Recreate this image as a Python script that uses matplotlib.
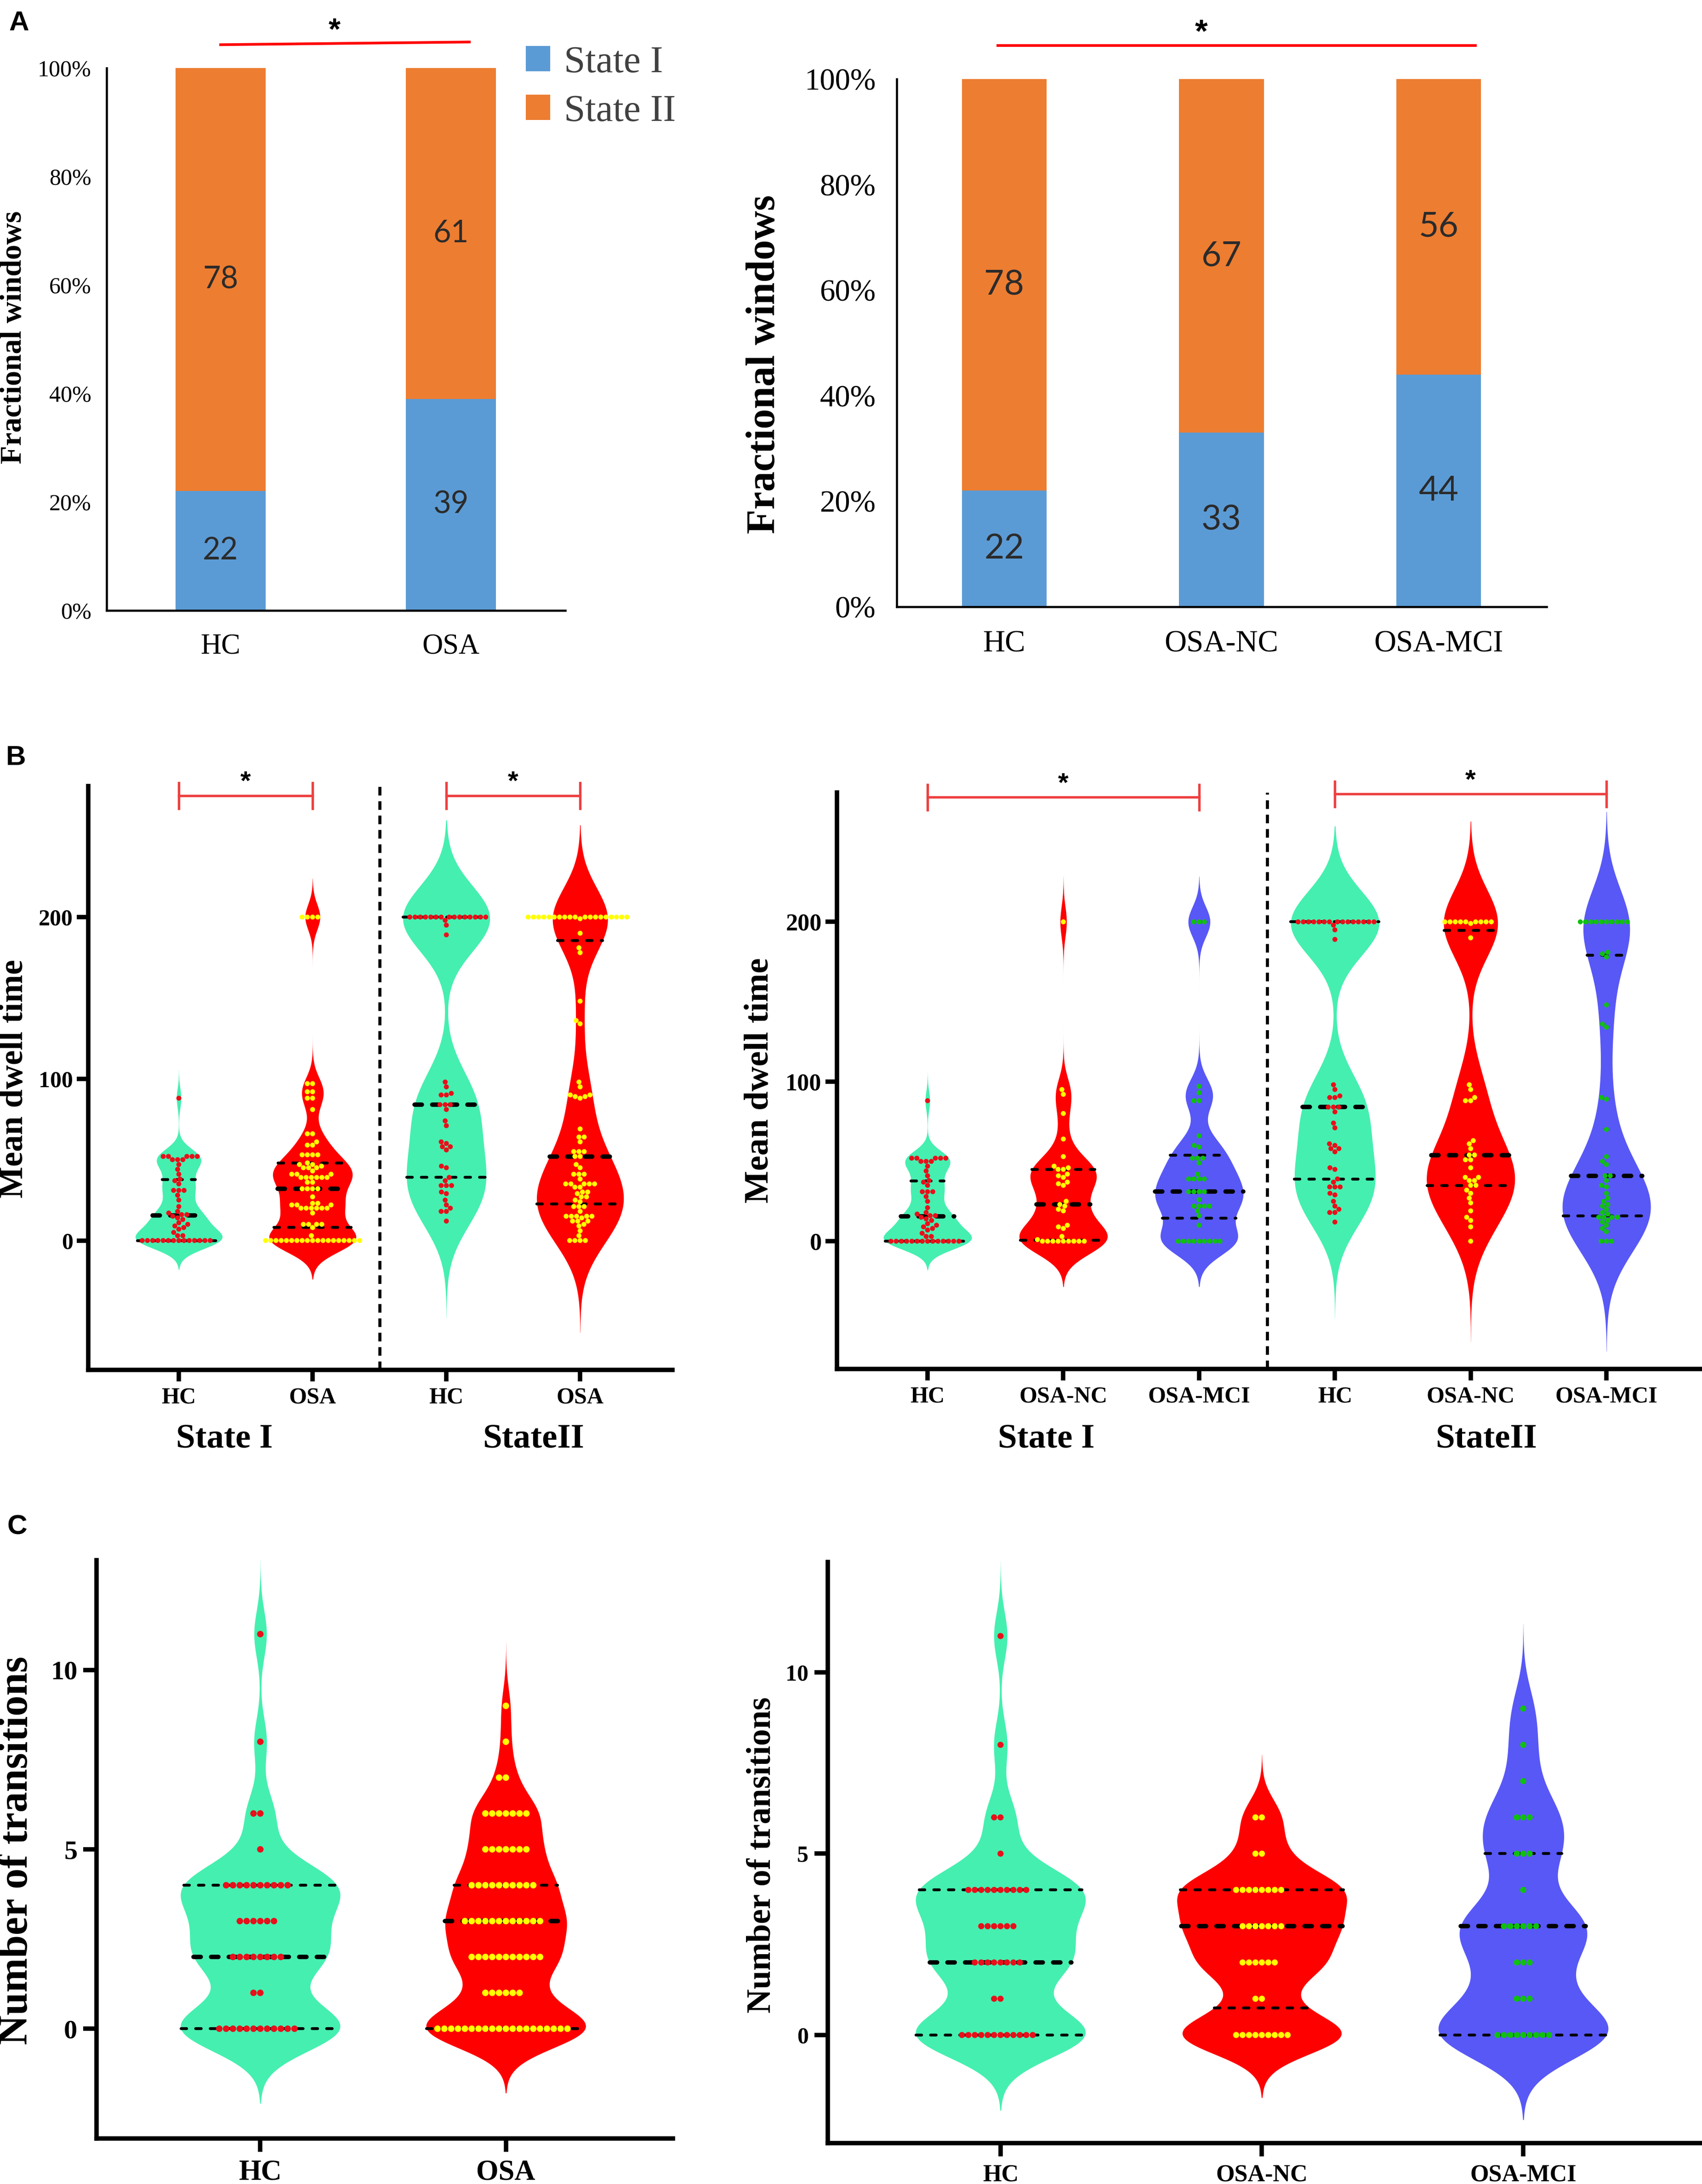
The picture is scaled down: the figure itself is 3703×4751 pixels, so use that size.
import numpy as np
import pandas as pd
import matplotlib
matplotlib.use('Agg')
import matplotlib.pyplot as plt
from matplotlib import mlab
import seaborn as sns

# ---------------- data ----------------
# A: fractional windows (%) per state
groups_2 = ['HC', 'OSA']
groups_3 = ['HC', 'OSA-NC', 'OSA-MCI']
frac_s1_2 = [22, 39]
frac_s2_2 = [78, 61]
frac_s1_3 = [22, 33, 44]
frac_s2_3 = [78, 67, 56]

# B: mean dwell time
hc_s1 = [0, 0, 0, 0, 0, 0, 0, 0, 0, 0, 0, 0, 0, 0,
         3, 3, 5, 7, 8, 9, 10, 11, 13, 14, 15, 16, 16, 17, 18, 21, 25, 28, 31, 31, 31,
         35, 37, 38, 41, 44, 47, 50, 50, 50, 52, 52, 52, 52, 52, 88]
osa_s1 = [0, 0, 0, 0, 0, 0, 0, 0, 0, 0, 0, 0, 0, 0, 0, 0, 0, 0, 0,
          3, 8, 10, 10, 10, 10, 17, 20, 20, 20, 20, 20, 20, 22, 22, 22, 23, 23, 27,
          32, 32, 32, 32, 36, 36, 39, 39, 39, 39, 39, 39, 41, 41, 41, 43, 45, 45, 45,
          46, 47, 47, 48, 53, 53, 53, 53, 59, 59, 61, 66, 66, 81, 88, 88, 92, 92, 97, 97,
          200, 200, 200, 200]
hc_s2 = [12, 18, 18, 20, 22, 25, 29, 30, 34, 34, 34, 37, 39, 45, 46, 56, 58, 58, 60, 61,
         71, 74, 81, 84, 84, 84, 90, 90, 91, 95, 98, 189, 195, 198,
         200, 200, 200, 200, 200, 200, 200, 200, 200, 200, 200, 200, 200, 200, 200]
osa_s2 = [0, 0, 0, 0, 3, 6, 9, 10, 12, 12, 12, 14, 15, 15, 15, 15, 15, 18, 21, 21, 21,
          24, 25, 27, 27, 29, 30, 30, 33, 33, 35, 35, 35, 35, 35, 38, 41, 41, 41, 45, 47,
          52, 52, 55, 55, 55, 61, 64, 64, 69, 88, 89, 89, 90, 90, 95, 98, 134, 136, 148,
          178, 181, 190, 199, 200, 200, 200, 200, 200, 200, 200, 200, 200, 200, 200, 200,
          200, 200, 200, 200, 200, 200, 200]
nc_s1 = [0, 0, 0, 0, 0, 0, 0, 0, 0, 1, 3, 8, 9, 10, 19, 20, 22, 23, 25, 35, 36, 37, 40,
         41, 42, 45, 45, 46, 47, 53, 64, 80, 92, 95, 200]
mci_s1 = [0, 0, 0, 0, 0, 0, 0, 0, 0, 10, 16, 19, 22, 22, 22, 22, 26, 31, 31, 31, 31,
          39, 39, 39, 39, 42, 49, 52, 52, 52, 59, 60, 66, 88, 88, 93, 97, 200, 200, 200]
nc_s2 = [0, 9, 13, 15, 19, 24, 27, 30, 32, 35, 35, 38, 38, 40, 40, 46, 51, 51, 54, 54,
         58, 61, 63, 88, 88, 90, 95, 98, 190, 199,
         200, 200, 200, 200, 200, 200, 200, 200, 200]
mci_s2 = [0, 0, 0, 6, 8, 10, 12, 13, 15, 15, 15, 15, 17, 18, 20, 22, 23, 25, 27, 30, 34,
          35, 38, 41, 41, 48, 50, 53, 70, 89, 90, 134, 136, 148, 178, 180, 181,
          200, 200, 200, 200, 200, 200, 200, 200, 200, 200]

# C: number of transitions
hc_c = [0, 0, 0, 0, 0, 0, 0, 0, 0, 0, 0, 0, 1, 1, 2, 2, 2, 2, 2, 2, 2, 2,
        3, 3, 3, 3, 3, 3, 4, 4, 4, 4, 4, 4, 4, 4, 4, 4, 5, 6, 6, 8, 11]
osa_c = [0, 0, 0, 0, 0, 0, 0, 0, 0, 0, 0, 0, 0, 0, 0, 0, 0, 0, 0, 0,
         1, 1, 1, 1, 1, 1, 2, 2, 2, 2, 2, 2, 2, 2, 2, 2, 2,
         3, 3, 3, 3, 3, 3, 3, 3, 3, 3, 3, 3, 4, 4, 4, 4, 4, 4, 4, 4, 4, 4,
         5, 5, 5, 5, 5, 5, 5, 6, 6, 6, 6, 6, 6, 6, 7, 7, 8, 9]
nc_c = [0, 0, 0, 0, 0, 0, 0, 0, 0, 1, 1, 2, 2, 2, 2, 2, 2, 3, 3, 3, 3, 3, 3, 3,
        4, 4, 4, 4, 4, 4, 4, 4, 5, 5, 6, 6]
mci_c = [0, 0, 0, 0, 0, 0, 0, 0, 0, 1, 1, 1, 2, 2, 2, 3, 3, 3, 3, 3, 3, 4,
         5, 5, 5, 6, 6, 6, 7, 8, 9]

# ---------------- style ----------------
W, H, DPI = 3703, 4751, 300
BLUE, ORANGE = '#5B9BD5', '#ED7D31'
GREEN_V, RED_V, BLUE_V = '#45EFB0', '#FF0000', '#5858F6'
RED_D, YEL_D, GRN_D = '#E8101A', '#FFFF00', '#10C010'
SIG = '#EE4040'

plt.rcParams['font.family'] = 'Liberation Serif'
plt.rcParams['lines.scale_dashes'] = False

fig = plt.figure(figsize=(W / DPI, H / DPI), dpi=DPI)


def px_axes(x0, y0, x1, y1):
    # axes box given in pixels (left, top, right, bottom)
    return fig.add_axes([x0 / W, 1 - y1 / H, (x1 - x0) / W, (y1 - y0) / H])


def fig_text(x, y, s, **kw):
    fig.text(x / W, 1 - y / H, s, ha='center', va='center', **kw)


def bar_panel(ax, groups, s1, s2, tick_fs, xt_fs, num_fs, ypad, xpad):
    x = np.arange(len(groups))
    b1 = ax.bar(x, np.array(s1) / 100, 0.39, color=BLUE, label='State I')
    b2 = ax.bar(x, np.array(s2) / 100, 0.39, bottom=np.array(s1) / 100,
                color=ORANGE, label='State II')
    for b, vals in ((b1, s1), (b2, s2)):
        ax.bar_label(b, labels=[str(v) for v in vals], label_type='center',
                     fontsize=num_fs, color='#2b2b2b', family='Lato')
    ax.set_xlim(-0.495, len(groups) - 0.503)
    ax.set_ylim(0, 1)
    ax.set_yticks(np.linspace(0, 1, 6))
    ax.set_yticklabels(['0%', '20%', '40%', '60%', '80%', '100%'])
    ax.set_xticks(x)
    ax.set_xticklabels(groups)
    ax.spines[['top', 'right']].set_visible(False)
    for s in ('left', 'bottom'):
        ax.spines[s].set_linewidth(1.1)
    ax.tick_params(axis='y', length=0, labelsize=tick_fs, pad=ypad)
    ax.tick_params(axis='x', length=0, labelsize=xt_fs, pad=xpad)
    return b1, b2


def draw_violin(ax, pos, vals, color, bw, cut, half=0.325):
    vals = np.asarray(vals, dtype=float)
    kde = mlab.GaussianKDE(vals, bw / vals.std(ddof=1))
    ys = np.linspace(vals.min() - cut * bw, vals.max() + cut * bw, 600)
    dens = kde.evaluate(ys)
    w = half * dens / dens.max()
    ax.fill_betweenx(ys, pos - w, pos + w, color=color, linewidth=0, zorder=1)
    q1, med, q3 = np.percentile(vals, [25, 50, 75])
    for q, lw, dash in ((q1, 1.5, (2.9, 4.7)), (med, 2.3, (3.8, 5.4)), (q3, 1.5, (2.9, 4.7))):
        hw = np.interp(q, ys, w)
        ax.plot([pos - hw, pos + hw], [q, q], color='black', lw=lw, dashes=dash,
                dash_capstyle='round', zorder=2)


def add_dots(ax, data, dot_colors, size):
    xs, ys, cs = [], [], []
    for pos, (vals, c) in enumerate(zip(data, dot_colors)):
        xs += [pos] * len(vals)
        ys += list(vals)
        cs += [c] * len(vals)
    df = pd.DataFrame({'pos': xs, 'val': ys, 'dot': cs})
    sns.swarmplot(data=df, x='pos', y='val', hue='dot', palette={c: c for c in dot_colors},
                  native_scale=True, orient='v', size=size, linewidth=0, legend=False,
                  ax=ax, zorder=3)


def violin_panel(ax, data, colors, dot_colors, bws, cut, dot_size, labels,
                 ylim, xlim, yticks, ytick_fs, xtick_fs, tick_len, ypad, xpad):
    for pos, (vals, col, bw) in enumerate(zip(data, colors, bws)):
        draw_violin(ax, pos, vals, col, bw, cut)
    add_dots(ax, data, dot_colors, dot_size)
    ax.set_xlim(*xlim)
    ax.set_ylim(*ylim)
    ax.set_xticks(range(len(data)))
    ax.set_xticklabels(labels)
    ax.set_yticks(yticks)
    ax.set_yticklabels([str(t) for t in yticks])
    ax.set_xlabel('')
    ax.set_ylabel('')
    ax.spines[['top', 'right']].set_visible(False)
    for s in ('left', 'bottom'):
        ax.spines[s].set_linewidth(2.3)
    ax.tick_params(axis='both', width=2.3, length=tick_len)
    ax.tick_params(axis='y', labelsize=ytick_fs, pad=ypad)
    ax.tick_params(axis='x', labelsize=xtick_fs, pad=xpad)
    for t in ax.get_xticklabels() + ax.get_yticklabels():
        t.set_fontweight('bold')


def bracket(ax, x0, x1, y, star_y, cap=8):
    kw = dict(color=SIG, lw=1.3, clip_on=False, zorder=5)
    ax.plot([x0, x1], [y, y], **kw)
    ax.plot([x0, x0], [y - cap, y + cap], **kw)
    ax.plot([x1, x1], [y - cap, y + cap], **kw)
    ax.text((x0 + x1) / 2, star_y, '*', ha='center', va='center', fontsize=14,
            fontweight='bold', family='Liberation Sans', clip_on=False)


# ---------------- A: fractional windows ----------------
ax_a1 = px_axes(232, 148, 1230, 1328)
b1, b2 = bar_panel(ax_a1, groups_2, frac_s1_2, frac_s2_2, 12, 15, 16, 8, 12)
ax_a1.plot([0.0, 1.08], [1.043, 1.048], color='#FF0000', lw=1.4, clip_on=False)
ax_a1.text(0.495, 1.068, '*', ha='center', va='center', fontsize=16, fontweight='bold',
           family='Liberation Sans', clip_on=False)
ax_a1.legend(handles=[b1, b2], loc='upper left', bbox_to_anchor=(1144 / W, 1 - 99 / H),
             bbox_transform=fig.transFigure, frameon=False, fontsize=20, labelcolor='#404040',
             handlelength=0.64, handleheight=0.64, handletextpad=0.36, labelspacing=0.37,
             borderpad=0, borderaxespad=0)

ax_a2 = px_axes(1951, 172, 3365, 1320)
bar_panel(ax_a2, groups_3, frac_s1_3, frac_s2_3, 16, 16, 18, 11, 12)
ax_a2.plot([-0.03, 2.17], [1.0636, 1.0636], color='#FF0000', lw=1.4, clip_on=False)
ax_a2.text(0.907, 1.086, '*', ha='center', va='center', fontsize=17, fontweight='bold',
           family='Liberation Sans', clip_on=False)

fig_text(30, 734, 'Fractional windows', rotation=90, fontsize=15.7, fontweight='bold')
fig_text(1663, 792, 'Fractional windows', rotation=90, fontsize=21, fontweight='bold')

# ---------------- B: mean dwell time ----------------
ax_b1 = px_axes(192, 1710, 1463, 2980)
violin_panel(ax_b1, [hc_s1, osa_s1, hc_s2, osa_s2],
             [GREEN_V, RED_V, GREEN_V, RED_V], [RED_D, YEL_D, RED_D, YEL_D],
             [6, 8, 20, 19], 3, 2.6, ['HC', 'OSA', 'HC', 'OSA'],
             (-80, 281), (-0.677, 3.69), [0, 100, 200], 12, 12, 6, 2, 3)
ax_b1.axvline(1.5, color='black', lw=1.6, dashes=(4.5, 3))
bracket(ax_b1, 0, 1, 275, 283)
bracket(ax_b1, 2, 3, 275, 283)

ax_b2 = px_axes(1821, 1724, 3699, 2978)
violin_panel(ax_b2, [hc_s1, nc_s1, mci_s1, hc_s2, nc_s2, mci_s2],
             [GREEN_V, RED_V, BLUE_V, GREEN_V, RED_V, BLUE_V],
             [RED_D, YEL_D, GRN_D, RED_D, YEL_D, GRN_D],
             [6, 9.5, 9.5, 20, 21, 23], 3, 2.6,
             ['HC', 'OSA-NC', 'OSA-MCI', 'HC', 'OSA-NC', 'OSA-MCI'],
             (-80, 281), (-0.667, 5.69), [0, 100, 200], 12.5, 12, 6, 2, 3)
ax_b2.axvline(2.5, color='black', lw=1.6, dashes=(4.5, 3))
bracket(ax_b2, 0, 2, 278, 286)
bracket(ax_b2, 3, 5, 280, 288)

fig_text(31, 2347, 'Mean dwell time', rotation=90, fontsize=17.5, fontweight='bold')
fig_text(1653, 2350, 'Mean dwell time', rotation=90, fontsize=18, fontweight='bold')
fig_text(488, 3131, 'State I', fontsize=18, fontweight='bold')
fig_text(1160, 3131, 'StateII', fontsize=18, fontweight='bold')
fig_text(2276, 3131, 'State I', fontsize=18, fontweight='bold')
fig_text(3233, 3131, 'StateII', fontsize=18, fontweight='bold')

# ---------------- C: number of transitions ----------------
ax_c1 = px_axes(210, 3394, 1464, 4652)
violin_panel(ax_c1, [hc_c, osa_c], [GREEN_V, RED_V], [RED_D, YEL_D],
             [0.65, 0.56], 3.2, 3.4, ['HC', 'OSA'],
             (-3.06, 13.06), (-0.667, 1.68), [0, 5, 10], 14, 15, 7, 3, 4)

ax_c2 = px_axes(1801, 3398, 3699, 4662)
violin_panel(ax_c2, [hc_c, nc_c, mci_c], [GREEN_V, RED_V, BLUE_V], [RED_D, YEL_D, GRN_D],
             [0.65, 0.54, 0.73], 3.2, 3.2, ['HC', 'OSA-NC', 'OSA-MCI'],
             (-2.98, 13.04), (-0.661, 2.677), [0, 5, 10], 12, 12.5, 7, 3, 4)

fig_text(37, 4025, 'Number of transitions', rotation=90, fontsize=21.5, fontweight='bold')
fig_text(1657, 4035, 'Number of transitions', rotation=90, fontsize=17.5, fontweight='bold')

# panel letters
for letter, (lx, ly) in {'A': (41, 50), 'B': (35, 1648), 'C': (37, 3322)}.items():
    fig_text(lx, ly, letter, fontsize=14.5, fontweight='bold', family='Liberation Sans')

fig.savefig('out.png', dpi=DPI)
